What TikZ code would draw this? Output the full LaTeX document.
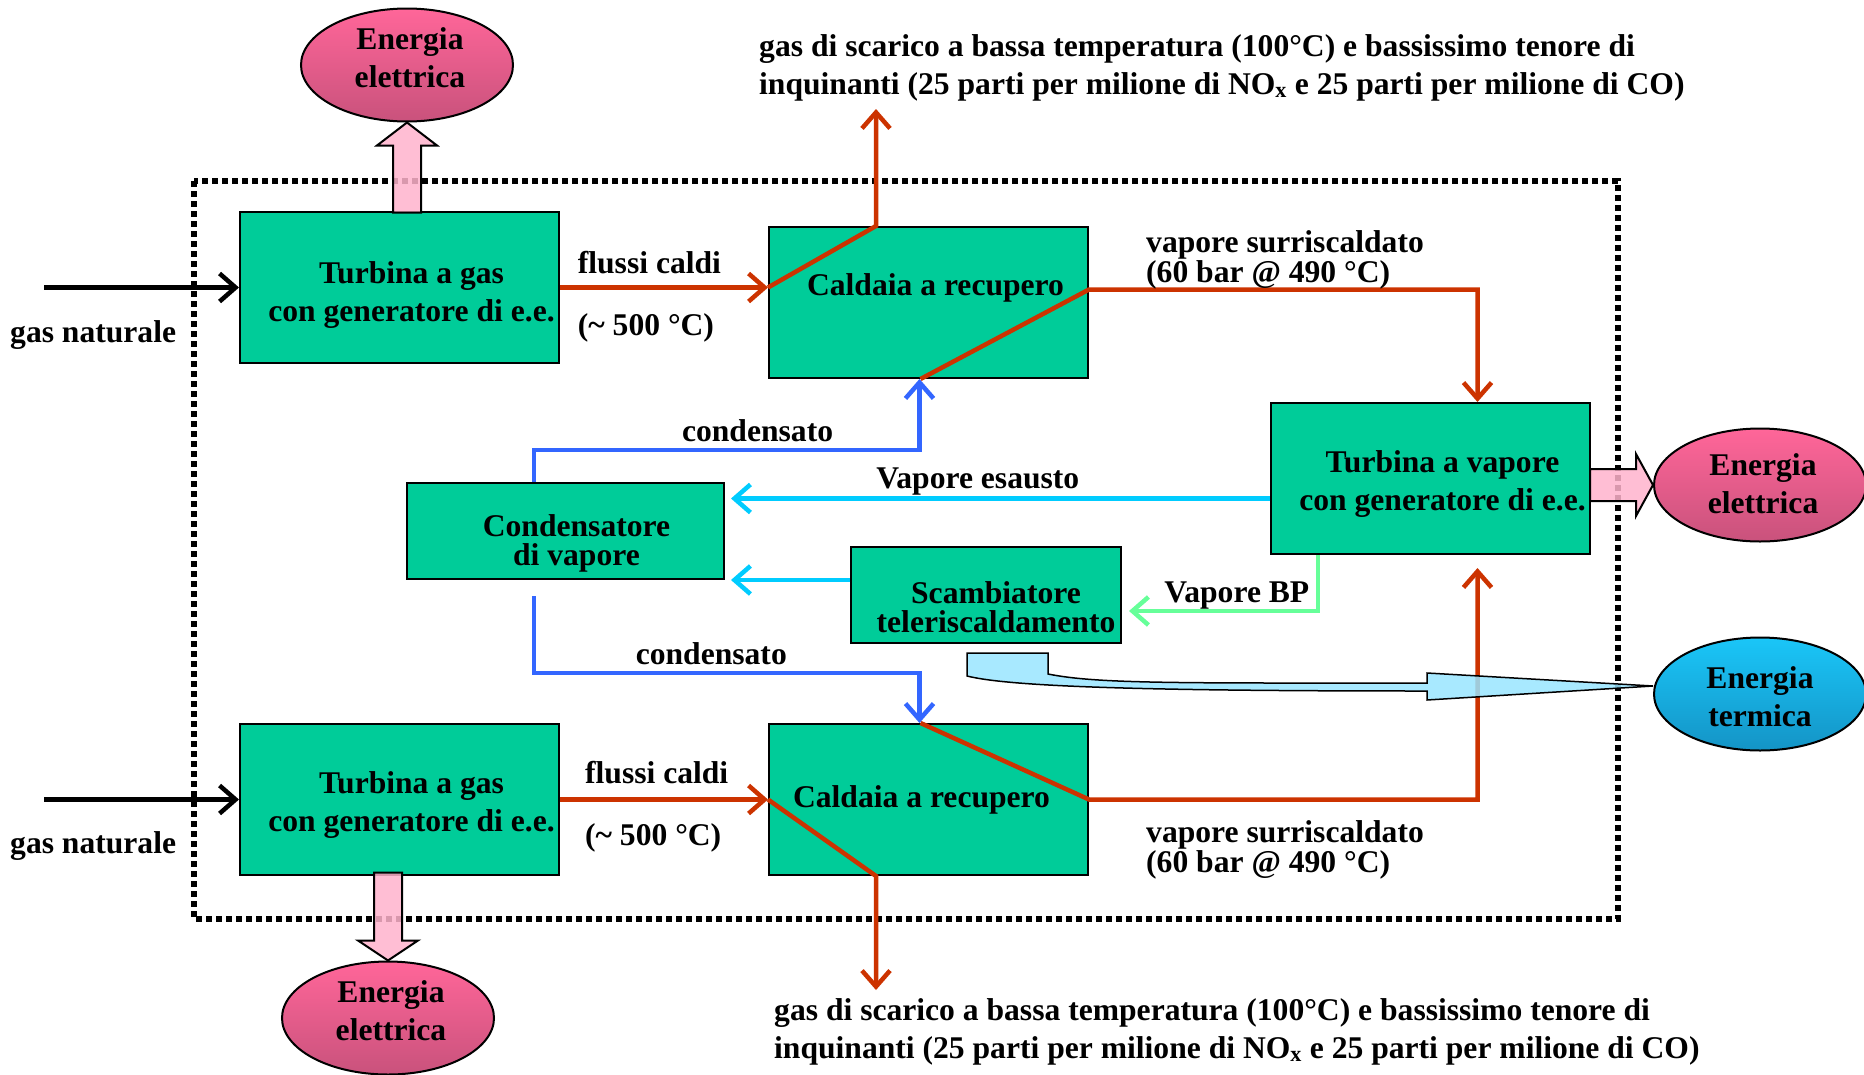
\documentclass[tikz,border=0pt]{standalone}
\usepackage{fontspec}
\setmainfont{Liberation Serif}
\usepackage{xcolor}
\usepackage{tikz}
\usetikzlibrary{positioning}
\usetikzlibrary{arrows.meta,shapes.geometric}
\usetikzlibrary{calc}
\definecolor{boxgreen}{HTML}{00CC99}
\definecolor{hotred}{HTML}{CC3300}
\definecolor{condblue}{HTML}{3366FF}
\definecolor{steamcyan}{HTML}{00CCFF}
\definecolor{bpgreen}{HTML}{66FF99}
\definecolor{powerpink}{HTML}{FFB3CC}
\definecolor{heatblue}{HTML}{99E5FF}
\definecolor{eltop}{HTML}{FF6699}
\definecolor{elbot}{HTML}{C9527C}
\definecolor{thtop}{HTML}{1AC6F8}
\definecolor{thbot}{HTML}{1494C6}
\tikzstyle{block}=[rectangle,draw=black,line width=2pt,fill=boxgreen,minimum width=319pt,minimum height=151pt,inner sep=0pt]
\tikzstyle{smallblock}=[block,minimum height=96pt]
\tikzstyle{energy}=[ellipse,draw=black,line width=2pt,minimum width=212pt,minimum height=113pt,inner sep=0pt]
\tikzstyle{flow}=[draw,line width=4.5pt,-{Straight Barb[length=16pt,width=28pt]}]
\tikzstyle{power}=[draw=black,line width=2pt,fill=powerpink,fill opacity=0.85]
\tikzstyle{heat}=[draw=black,line width=1.5pt,fill=heatblue,fill opacity=0.85]
\tikzstyle{lbl}=[inner sep=0pt,text=black]
\tikzstyle{tight}=[lbl,align=left,font=\fontsize{31.6}{30}\selectfont\bfseries]
\tikzset{every label/.style={align=center,inner sep=0pt}}

\begin{document}
\begin{tikzpicture}[x=1pt,y=-1pt,font=\fontsize{31.6}{38}\selectfont\bfseries]
\useasboundingbox (0,0) rectangle (1864,1074);

% confine dell'impianto
\draw[line width=5.5pt,dash pattern=on 6pt off 4pt] (194,181) rectangle (1618,919);

\foreach \x/\y/\dx/\dy/\name/\label in {399.5/287.5/12/-8/tg1/{Turbina a gas\\con generatore di e.e.}, 399.5/799.5/12/-6/tg2/{Turbina a gas\\con generatore di e.e.}, 1430.5/478.5/12/-6/tv/{Turbina a vapore\\con generatore di e.e.}, 928.5/302.5/7/15/cr1/{Caldaia a recupero}, 928.5/799.5/-7/0/cr2/{Caldaia a recupero}}
  \node[block,label={[xshift=\dx pt,yshift=\dy pt]center:\label}] (\name) at (\x,\y) {};
\foreach \x/\y/\w/\dx/\name/\label in {565.5/531/317/11/cond/{Condensatore\\di vapore}, 986/595/270/10/scamb/{Scambiatore\\teleriscaldamento}}
  \node[smallblock,minimum width=\w pt,label={[xshift=\dx pt,yshift=-12pt,font=\fontsize{31.6}{29}\selectfont\bfseries]center:\label}] (\name) at (\x,\y) {};

\foreach \x/\y/\dy/\name in {407/65/7/ee1, 388/1018/7/ee2, 1760/485/1/ee3}
  \node[energy,top color=eltop,bottom color=elbot,label={[xshift=3pt,yshift=\dy pt]center:Energia\\elettrica}] (\name) at (\x,\y) {};
\node[energy,top color=thtop,bottom color=thbot,label={[yshift=-3pt]center:Energia\\termica}] (et) at (1760,694) {};

\coordinate (gn1) at (44,287.5);
\coordinate (gn2) at (44,799.5);
\coordinate (exh1) at (876,109);
\coordinate (exh2) at (876,990);

% gas naturale
\foreach \s in {1,2}
  \draw[flow,black] (gn\s) -- (tg\s.west);
\node[lbl,anchor=base west] at (10,342) {gas naturale};
\node[lbl,anchor=base west] at (10,853) {gas naturale};

% fumi caldi e scarico
\draw[flow,hotred] (tg1.east) -- (tg1.east -| cr1.west)
  node[lbl,pos=0.075,anchor=base west,yshift=14pt] {flussi caldi}
  node[lbl,pos=0.075,anchor=base west,yshift=-48pt] {(\textasciitilde{} 500 °C)};
\draw[flow,hotred] (tg2.east) -- (cr2.west)
  node[lbl,pos=0.11,anchor=base west,yshift=16pt] {flussi caldi}
  node[lbl,pos=0.11,anchor=base west,yshift=-46pt] {(\textasciitilde{} 500 °C)};
\draw[flow,hotred] (tg1.east -| cr1.west) -- (cr1.north -| exh1) -- (exh1);
\draw[flow,hotred] (cr2.west) -- (cr2.south -| exh2) -- (exh2);
\node[lbl,align=left,anchor=north west] at (759,34) {gas di scarico a bassa temperatura (100°C) e bassissimo tenore di\\inquinanti (25 parti per milione di NO\textsubscript{x} e 25 parti per milione di CO)};
\node[lbl,align=left,anchor=north west] at (774,998) {gas di scarico a bassa temperatura (100°C) e bassissimo tenore di\\inquinanti (25 parti per milione di NO\textsubscript{x} e 25 parti per milione di CO)};

% vapore surriscaldato
\draw[flow,hotred] ($(cr1.south)+(-8,0)$) -- ($(cr1.east)+(0,-13)$) -| ($(tv.north)+(47,0)$);
\draw[flow,hotred] ($(cr2.north)+(-8,0)$) -- (cr2.east) -| ($(tv.south)+(47,13)$);
\node[tight,anchor=north west] at (1146,230) {vapore surriscaldato\\(60 bar @ 490 °C)};
\node[tight,anchor=north west] at (1146,820) {vapore surriscaldato\\(60 bar @ 490 °C)};

% condensato
\draw[flow,condblue] ($(cond.north west)+(128,0)$) -- ++(0,-32) -| ($(cr1.south)+(-9,0)$)
  node[lbl,pos=0.29,anchor=base,yshift=9pt] {condensato};
\draw[flow,condblue] ($(cond.south west)+(128,16)$) |- ($(cr2.north)+(-9,-50)$)
  node[lbl,pos=0.73,anchor=base,yshift=9pt] {condensato} -- ($(cr2.north)+(-9,0)$);

% vapore esausto e BP
\coordinate (ve) at ($(tv.west)+(0,20)$);
\draw[flow,steamcyan,shorten >=6pt] (ve) -- (ve -| cond.east)
  node[lbl,pos=0.536,anchor=base,yshift=10pt] {Vapore esausto};
\draw[flow,steamcyan,shorten >=6pt] (scamb.west |- cond.south) -- (cond.south east);
\draw[flow,bpgreen,shorten >=7pt] ($(tv.south west)+(48,0)$) |- ($(scamb.east)+(0,16)$)
  node[lbl,pos=0.707,anchor=base,yshift=9pt] {Vapore BP};

% energia elettrica
\filldraw[power] (ee1.south) -- ++(30,23) -- ++(-16,0) -- ++(0,67) -- ++(-28,0) -- ++(0,-67) -- ++(-16,0) -- cycle;
\filldraw[power] (ee2.north) -- ++(30,-20) -- ++(-16,0) -- ++(0,-68) -- ++(-28,0) -- ++(0,68) -- ++(-16,0) -- cycle;
\filldraw[power] (ee3.west) -- ++(-17,-31) -- ++(0,15) -- ++(-46,0) -- ++(0,32) -- ++(46,0) -- ++(0,15) -- cycle;

% energia termica
\coordinate (ts) at ($(scamb.south)+(-19,9)$);
\coordinate (tt) at ($(et.west)+(0,-8)$);
\filldraw[heat] (ts) -- ++(81,0) -- ++(0,21)
  .. controls +(50,10) and +(-250,0) .. ($(tt)+(-226,-3)$)
  -- ($(tt)+(-226,-13)$) -- (tt) -- ($(tt)+(-226,14)$) -- ($(tt)+(-226,5)$)
  .. controls +(-300,0) and +(40,10) .. ($(ts)+(0,23)$) -- cycle;

\end{tikzpicture}
\end{document}
